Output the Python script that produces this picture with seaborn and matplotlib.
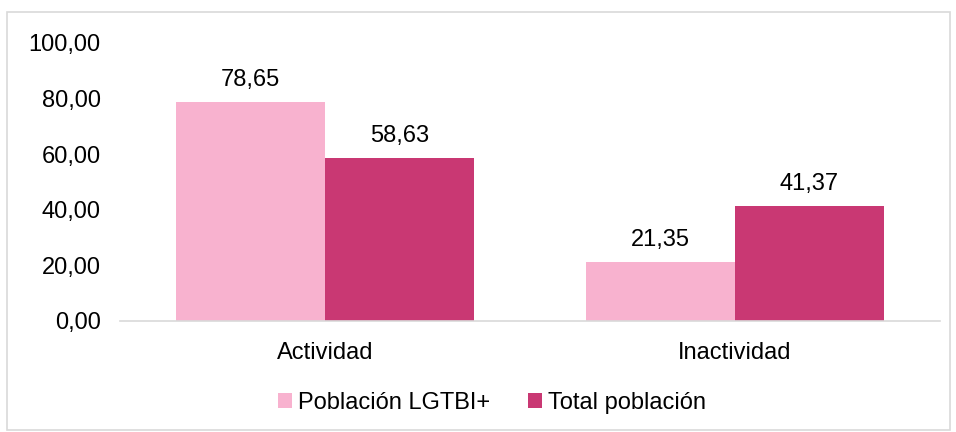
import matplotlib
matplotlib.use("Agg")
import matplotlib.pyplot as plt
import seaborn as sns
import pandas as pd
from matplotlib.patches import Rectangle

categorias = ["Actividad", "Inactividad"]
series = ["Población LGTBI+", "Total población"]
lgtbi = [78.65, 21.35]
total = [58.63, 41.37]
colores = ["#F8B2CF", "#C93873"]

df = pd.DataFrame({
    "categoria": categorias * 2,
    "serie": [series[0]] * 2 + [series[1]] * 2,
    "valor": lgtbi + total,
})

sns.set_style("white")
plt.rcParams["font.family"] = ["Liberation Sans", "DejaVu Sans"]
plt.rcParams["text.color"] = "black"
plt.rcParams["xtick.color"] = "black"
plt.rcParams["ytick.color"] = "black"

fs = 17

fig = plt.figure(figsize=(9.56, 4.32), dpi=100)
ax = fig.add_axes([120 / 956, 1 - 321 / 432, 820 / 956, 278 / 432])

sns.barplot(data=df, x="categoria", y="valor", hue="serie", palette=colores,
            width=0.727, saturation=1, linewidth=0, ax=ax, legend=True)

for cont in ax.containers:
    ax.bar_label(cont, labels=[f"{v:.2f}".replace(".", ",") for v in cont.datavalues],
                 padding=8, fontsize=fs, color="black")

ax.set_ylim(0, 100)
ax.set_yticks(range(0, 101, 20))
ax.set_yticklabels([f"{v},00" for v in range(0, 101, 20)], fontsize=fs)
ax.tick_params(axis="x", labelsize=fs, pad=15, length=0, labelcolor="black")
ax.tick_params(axis="y", length=0, pad=14, labelcolor="black")
ax.set_xlabel("")
ax.set_ylabel("")
for s in ["top", "right", "left"]:
    ax.spines[s].set_visible(False)
ax.spines["bottom"].set_color("#D9D9D9")
ax.spines["bottom"].set_linewidth(1.2)

ax.legend(loc="center", bbox_to_anchor=(0.454, -0.295), ncol=2, frameon=False,
          fontsize=fs, handlelength=0.6, handleheight=0.6, handletextpad=0.25,
          columnspacing=1.6)

fig.patches.append(Rectangle((7 / 956, 2 / 432), 943 / 956, 418 / 432,
                             transform=fig.transFigure, fill=False,
                             edgecolor="#D9D9D9", linewidth=1.2))

fig.savefig("out.png", dpi=100)
